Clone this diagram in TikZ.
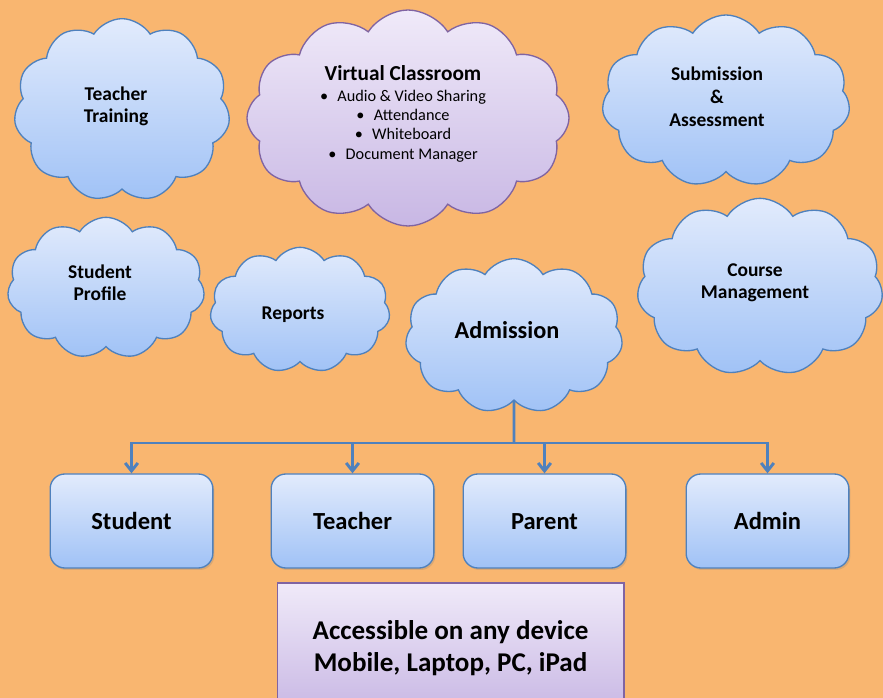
\documentclass[tikz,border=0pt]{standalone}
\usepackage{fontspec}
\setmainfont{Carlito}
\usetikzlibrary{shapes.symbols,arrows.meta,shadows}

\definecolor{bgorange}{RGB}{249,182,112}
\definecolor{cloudtop}{RGB}{226,235,252}
\definecolor{cloudbottom}{RGB}{160,194,246}
\definecolor{cloudline}{RGB}{79,129,189}
\definecolor{lilactop}{RGB}{240,234,249}
\definecolor{lilacbottom}{RGB}{200,183,228}
\definecolor{lilacline}{RGB}{128,100,162}

\tikzset{
   blobblue/.style={cloud, cloud puffs=11, cloud puff arc=115, cloud ignores aspect,
      draw=cloudline, line width=1pt, top color=cloudtop, bottom color=cloudbottom, inner sep=0pt},
   bloblilac/.style={blobblue, draw=lilacline, top color=lilactop, bottom color=lilacbottom},
   blobtext/.style={align=center, font=\fontsize{14.6}{16.5}\selectfont\bfseries},
   rolebox/.style={draw=cloudline, line width=1pt, rounded corners=11pt, top color=cloudtop,
      bottom color=cloudbottom, minimum width=122pt, minimum height=70.5pt,
      text height=16.5pt, text depth=3.5pt,
      drop shadow={opacity=0.25, shadow xshift=1.2pt, shadow yshift=-1.5pt},
      font=\fontsize{18.4}{22}\selectfont\bfseries},
   devicebox/.style={draw=lilacline, line width=1pt, top color=lilactop, bottom color=lilacbottom,
      minimum width=260pt, minimum height=97.5pt, align=center,
      font=\fontsize{20.3}{24}\selectfont\bfseries},
   trunk/.style={draw=cloudline, line width=2.2pt},
   branch/.style={trunk, -{Straight Barb[length=6pt,width=9.5pt]}}
}

\begin{document}
\begin{tikzpicture}[x=0.75pt, y=-0.75pt]

   \useasboundingbox (0,0) rectangle (883,698);
   \fill [bgorange] (0,0) rectangle (883,698);

   \node (training) at (122,110) [blobblue, minimum width=162pt, minimum height=137pt] {};
   \node (classroom) at (408,118) [bloblilac, cloud puffs=12, minimum width=241.5pt, minimum height=162pt] {};
   \node (submission) at (726,101) [blobblue, minimum width=186pt, minimum height=129pt] {};
   \node (profile) at (106,288) [blobblue, minimum width=148pt, minimum height=106pt] {};
   \node (reports) at (300,310) [blobblue, minimum width=135pt, minimum height=94pt] {};
   \node (admission) at (514,336) [blobblue, minimum width=163pt, minimum height=116pt] {};
   \node (course) at (760,287) [blobblue, minimum width=184.5pt, minimum height=133pt] {};

   \node (trainingtext) at (116,106) [blobtext] {Teacher\\Training};
   \node (classroomtitle) at (403,73) [font=\fontsize{16}{18}\selectfont\bfseries] {Virtual Classroom};
   \node (classroomlist) at (403,126) [align=center, font=\fontsize{12.2}{14.6}\selectfont]
      {•\hspace{7pt}Audio \& Video Sharing\\ •\hspace{7pt}Attendance\\ •\hspace{7pt}Whiteboard\\ •\hspace{7pt}Document Manager};
   \node (submissiontext) at (717,97) [blobtext, font=\fontsize{14.6}{17.2}\selectfont\bfseries] {Submission\\\&\\Assessment};
   \node (profiletext) at (100,283) [blobtext] {Student\\Profile};
   \node (reportstext) at (293,315) [blobtext] {Reports};
   \node (admissiontext) at (507,330) [font=\fontsize{18.2}{21}\selectfont\bfseries] {Admission};
   \node (coursetext) at (755,283) [blobtext] {Course\\Management};

   \node (student) at (131.5,521) [rolebox] {Student};
   \node (teacher) at (352.5,521) [rolebox] {Teacher};
   \node (parent) at (544.5,521) [rolebox] {Parent};
   \node (admin) at (767.5,521) [rolebox] {Admin};

   \node (devices) at (450.5,648) [devicebox] {Accessible on any device\\Mobile, Laptop, PC, iPad};

   \coordinate (hub) at (514,443);

   \draw [trunk] (admission.south) -- (hub);
   \draw [branch] (hub) -| (student.north);
   \draw [branch] (hub) -| (teacher.north);
   \draw [branch] (hub) -| (parent.north);
   \draw [branch] (hub) -| (admin.north);

\end{tikzpicture}
\end{document}
